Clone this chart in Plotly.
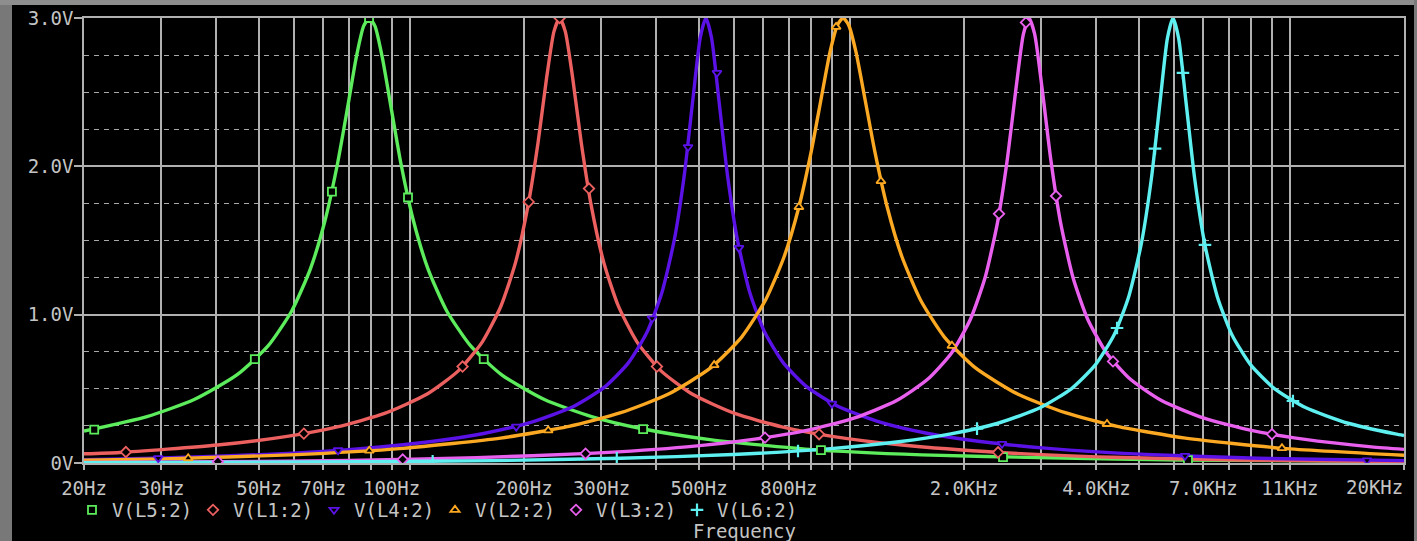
import math
import plotly.graph_objects as go

# ---------------- data ----------------
# V(L5:2)  green
L5_freq = [20, 27.8, 35.6, 44.5, 52.4, 59.3, 65.4, 70.6, 75.4, 79.5, 83.2, 86.4, 89, 91.7, 95.2,
           99.7, 105, 112.1, 121, 133.5, 151.3, 178, 222.5, 284.8, 373.8, 534, 890, 1602, 3115, 6230, 20000]
L5_volt = [0.215, 0.313, 0.428, 0.594, 0.789, 1.025, 1.309, 1.635, 2.021, 2.401, 2.739, 2.945, 3.0, 2.945, 2.739,
           2.401, 2.021, 1.635, 1.309, 1.025, 0.789, 0.594, 0.428, 0.313, 0.229, 0.156, 0.092, 0.055, 0.035, 0.02, 0.01]
L5_mark_freq = [21.1, 48.9, 73.2, 88.9, 109, 162, 373, 946, 2453, 6457]
L5_mark_volt = [0.225, 0.70, 1.83, 3.0, 1.79, 0.70, 0.229, 0.087, 0.04, 0.02]

# V(L1:2)  red
L1_freq = [20, 24.1, 40.2, 57.4, 75.3, 96.4, 120.5, 141.8, 160.7, 177.2, 191.3, 204.2, 215.2, 225.2, 234, 241,
           248.2, 257.9, 269.9, 284.4, 303.7, 327.8, 361.5, 409.7, 482, 602.5, 771.2, 1012, 1446, 2410, 4338, 8435, 20000]
L1_volt = [0.062, 0.071, 0.121, 0.178, 0.244, 0.334, 0.465, 0.621, 0.815, 1.057, 1.351, 1.733, 2.158, 2.6, 2.91, 3.0,
           2.91, 2.6, 2.158, 1.733, 1.351, 1.057, 0.815, 0.621, 0.465, 0.334, 0.244, 0.178, 0.121, 0.071, 0.039, 0.02, 0.009]
L1_mark_freq = [24.9, 63.2, 145, 205, 241, 281, 401, 937, 2390]
L1_mark_volt = [0.074, 0.198, 0.65, 1.76, 3.0, 1.85, 0.65, 0.194, 0.072]

# V(L4:2)  blue
L4_freq = [20, 28.8, 51.8, 86.3, 123.3, 161.9, 207.2, 259, 304.7, 345.3, 380.9, 411.1, 439, 462.6, 484.1, 503, 518,
           533.5, 554.3, 580.2, 611.2, 652.7, 704.5, 777, 880.6, 1036, 1295, 1658, 2176, 3108, 5180, 9324, 20000]
L4_volt = [0.022, 0.032, 0.058, 0.099, 0.145, 0.199, 0.274, 0.381, 0.511, 0.675, 0.883, 1.144, 1.502, 1.938, 2.453, 2.868, 3.0,
           2.868, 2.453, 1.938, 1.502, 1.144, 0.883, 0.675, 0.511, 0.381, 0.274, 0.199, 0.145, 0.099, 0.058, 0.032, 0.016]
L4_mark_freq = [29.5, 75.6, 192, 391, 472, 549, 616, 1002, 2440, 6357, 16480]
L4_mark_volt = [0.033, 0.086, 0.245, 0.975, 2.13, 2.63, 1.45, 0.40, 0.129, 0.048, 0.018]

# V(L2:2)  orange
L2_freq = [20, 30.3, 59, 106.2, 177, 252.9, 331.9, 424.8, 531, 624.7, 708, 780.9, 842.9, 900, 948.4, 992.5, 1031, 1062,
           1094, 1136, 1189, 1253, 1338, 1444, 1593, 1805, 2124, 2655, 3398, 4460, 6372, 10620, 20000]
L2_volt = [0.019, 0.028, 0.055, 0.099, 0.168, 0.247, 0.339, 0.463, 0.641, 0.849, 1.099, 1.394, 1.726, 2.106, 2.466, 2.773, 2.952, 3.0,
           2.952, 2.773, 2.466, 2.106, 1.726, 1.394, 1.099, 0.849, 0.641, 0.463, 0.339, 0.247, 0.168, 0.099, 0.052]
L2_mark_freq = [34.5, 89, 227, 541, 843, 1024, 1295, 1878, 4227, 10560]
L2_mark_volt = [0.032, 0.083, 0.22, 0.66, 1.726, 2.94, 1.90, 0.79, 0.263, 0.10]

# V(L3:2)  violet
L3_freq = [20, 40.2, 80.3, 156.2, 281.1, 468.5, 669.3, 878.4, 1124, 1406, 1653, 1874, 2067, 2231, 2382, 2510, 2627, 2729, 2811,
           2895, 3008, 3148, 3317, 3542, 3823, 4217, 4779, 5622, 7028, 8995, 11806, 16866, 20000]
L3_volt = [0.0045, 0.009, 0.018, 0.036, 0.065, 0.109, 0.161, 0.22, 0.302, 0.421, 0.564, 0.742, 0.967, 1.245, 1.617, 2.051, 2.531, 2.891, 3.0,
           2.891, 2.531, 2.051, 1.617, 1.245, 0.967, 0.742, 0.564, 0.421, 0.302, 0.22, 0.161, 0.109, 0.092]
L3_mark_freq = [40.3, 106, 276, 706, 2402, 2766, 3237, 4362, 10024]
L3_mark_volt = [0.009, 0.024, 0.063, 0.171, 1.68, 2.97, 1.80, 0.685, 0.194]

# V(L6:2)  cyan
L6_freq = [20, 85.3, 170.6, 331.7, 597.1, 995.2, 1422, 1866, 2388, 2986, 3512, 3981, 4391, 4739, 5060, 5332, 5581, 5798, 5971,
           6150, 6389, 6688, 7046, 7523, 8121, 8957, 10151, 11942, 14928, 19107, 20000]
L6_volt = [0.002, 0.008, 0.016, 0.032, 0.057, 0.097, 0.143, 0.196, 0.268, 0.374, 0.502, 0.663, 0.867, 1.125, 1.48, 1.917, 2.437, 2.863, 3.0,
           2.863, 2.437, 1.917, 1.48, 1.125, 0.867, 0.663, 0.502, 0.374, 0.268, 0.196, 0.185]
L6_mark_freq = [124, 325, 839, 2141, 4455, 5435, 6290, 7058, 11186]
L6_mark_volt = [0.012, 0.031, 0.081, 0.232, 0.91, 2.12, 2.63, 1.47, 0.418]

series_names = ["V(L5:2)", "V(L1:2)", "V(L4:2)", "V(L2:2)", "V(L3:2)", "V(L6:2)"]

# axis ticks
x_tick_vals = [20, 30, 40, 50, 60, 70, 80, 90, 100, 110,
               200, 300, 400, 500, 600, 700, 800, 900, 1000, 1100,
               2000, 3000, 4000, 5000, 6000, 7000, 8000, 9000, 10000, 11000, 20000]
x_tick_text = ["20Hz", "30Hz", "", "50Hz", "", "70Hz", "", "", "100Hz", "",
               "200Hz", "300Hz", "", "500Hz", "", "", "800Hz", "", "", "",
               "2.0KHz", "", "4.0KHz", "", "", "7.0KHz", "", "", "", "11KHz", ""]
x_last_label = "20KHz"
y_tick_vals = [0, 1, 2, 3]
y_tick_text = ["0V", "1.0V", "2.0V", "3.0V"]
x_title = "Frequency"

# ---------------- styles ----------------
colors = ["#5cec5c", "#ec6060", "#5a12e6", "#fba823", "#ea60ee", "#5ef0f0"]
symbols = ["square", "diamond", "triangle-down", "triangle-up", "diamond", "cross-thin"]
FONT = "DejaVu Sans Mono"
TXT = "#c4c4c4"
GRID = "#b0b0b0"

W, H = 1417, 541
L, R, T, B = 84, 13, 18, 78
PW, PH = W - L - R, H - T - B


def px(xpix):
    return (xpix - L) / PW


def py(ypix):
    return (H - B - ypix) / PH


fig = go.Figure()
curves = [(L5_freq, L5_volt), (L1_freq, L1_volt), (L4_freq, L4_volt),
          (L2_freq, L2_volt), (L3_freq, L3_volt), (L6_freq, L6_volt)]
marks = [(L5_mark_freq, L5_mark_volt), (L1_mark_freq, L1_mark_volt), (L4_mark_freq, L4_mark_volt),
         (L2_mark_freq, L2_mark_volt), (L3_mark_freq, L3_mark_volt), (L6_mark_freq, L6_mark_volt)]

for i, (f, v) in enumerate(curves):
    fig.add_trace(go.Scatter(x=f, y=v, mode="lines", showlegend=False, hoverinfo="skip",
                             line=dict(color=colors[i], width=3.4, shape="spline", smoothing=0.6)))
for i, (f, v) in enumerate(marks):
    if symbols[i] == "cross-thin":
        mk = dict(symbol="cross-thin", size=9, color=colors[i], line=dict(color=colors[i], width=2.2))
    else:
        mk = dict(symbol=symbols[i], size=8, color="black", line=dict(color=colors[i], width=1.8))
    fig.add_trace(go.Scatter(x=f, y=v, mode="markers", name=series_names[i], marker=mk,
                             hoverinfo="skip"))

axis_font = dict(family=FONT, size=19, color=TXT)

fig.update_layout(
    width=W, height=H,
    margin=dict(l=L, r=R, t=T, b=B, pad=0, autoexpand=False),
    paper_bgcolor="black", plot_bgcolor="black",
    font=axis_font,
    xaxis=dict(type="log", range=[math.log10(20), math.log10(20000)], automargin=False,
               tickmode="array", tickvals=x_tick_vals, ticktext=x_tick_text,
               ticks="outside", ticklen=5, tickwidth=1.5, tickcolor=GRID,
               showgrid=True, gridcolor=GRID, gridwidth=1.5,
               showline=True, linecolor=GRID, linewidth=1.5, mirror=True,
               zeroline=False, tickangle=0, tickfont=axis_font, ticklabelstandoff=2),
    yaxis=dict(range=[0, 3.0], automargin=False, tickmode="array", tickvals=y_tick_vals, ticktext=y_tick_text,
               ticks="outside", ticklen=8, tickwidth=1.5, tickcolor=GRID,
               showgrid=True, gridcolor=GRID, gridwidth=1.5,
               showline=True, linecolor=GRID, linewidth=1.5, mirror=True,
               zeroline=False, tickfont=axis_font, ticklabelstandoff=-3,
               minor=dict(dtick=0.25, showgrid=True, gridcolor="#a8a8a8", gridwidth=1.3,
                          griddash="5px,5px", ticks="")),
    legend=dict(orientation="h", xref="container", yref="container",
                x=72 / W, xanchor="left", y=1 - 491 / H, yanchor="top",
                font=dict(family=FONT, size=19, color=TXT), bgcolor="rgba(0,0,0,0)",
                entrywidth=76, entrywidthmode="pixels", traceorder="normal",
                itemsizing="trace", tracegroupgap=0),
    showlegend=True,
    annotations=[
        dict(text=x_title, xref="paper", yref="paper", x=0.5, y=py(531), xanchor="center",
             yanchor="middle", showarrow=False, font=axis_font),
        dict(text=x_last_label, xref="x", yref="paper", x=math.log10(20000), y=py(487),
             xanchor="right", yanchor="middle", showarrow=False, font=axis_font, xshift=1),
    ],
    shapes=[
        dict(type="rect", xref="paper", yref="paper", x0=px(0), x1=px(12), y0=py(H), y1=py(0),
             fillcolor="#787878", line=dict(width=0), layer="above"),
        dict(type="rect", xref="paper", yref="paper", x0=px(0), x1=px(W), y0=py(5), y1=py(0),
             fillcolor="#8e8e8e", line=dict(width=0), layer="above"),
        dict(type="rect", xref="paper", yref="paper", x0=px(1414), x1=px(W), y0=py(H), y1=py(0),
             fillcolor="#7a7a7a", line=dict(width=0), layer="above"),
    ],
)

fig.write_html("out.html", config={"displayModeBar": False},
               post_script="document.body.style.margin='0px';document.body.style.overflow='hidden';"
                           "document.body.style.background='black';")
